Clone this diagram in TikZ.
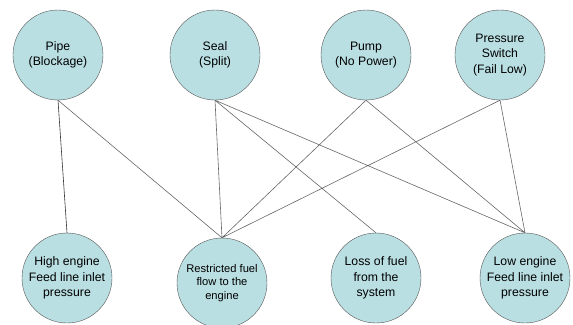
\documentclass[tikz,border=0pt]{standalone}
\usepackage{fontspec}
\setmainfont{Liberation Sans}
\usetikzlibrary{positioning}
\definecolor{causefill}{RGB}{186,223,227}
\definecolor{causeline}{RGB}{85,85,85}
\tikzset {
    x=1bp,
    y=-1bp,
    every cause/.style={circle, draw=causeline, fill=causefill, minimum size=90bp, inner sep=0pt, align=center, font=\fontsize{12.3}{15.5}\selectfont},
    link/.style={draw=causeline!90, line width=0.6pt}
}

\begin{document}
\begin{tikzpicture}
                            \useasboundingbox (0,0) rectangle (573,324);
                            \node[every cause] (pipe) at (58,55) {Pipe\\(Blockage)};
                            \node[every cause] (seal) at (215,55) {Seal\\(Split)};
                            \node[every cause] (pump) at (366,55) {Pump\\(No Power)};
                            \node[every cause] (switch) at (500,55) {Pressure\\Switch\\(Fail Low)};

                            \node[every cause] (high) at (67,278) {High engine\\Feed line inlet\\pressure};
                            \node[every cause, font=\fontsize{11.2}{13.5}\selectfont] (restricted) at (222,283) {Restricted fuel\\flow to the\\engine};
                            \node[every cause] (loss) at (376,278) {Loss of fuel\\from the\\system};
                            \node[every cause] (low) at (525,278) {Low engine\\Feed line inlet\\pressure};

                            \draw[link, draw=black!80]
                            (pipe.south) -- (high.north);
                            \draw[link]
                            (pipe.south) -- (restricted.north)
                            (seal.south) -- (restricted.north)
                            (seal.south) -- (loss.north)
                            (seal.south) -- (low.north)
                            (pump.south) -- (restricted.north)
                            (pump.south) -- (low.north)
                            (switch.south) -- (restricted.north)
                            (switch.south) -- (low.north);
                        \end{tikzpicture}
\end{document}
